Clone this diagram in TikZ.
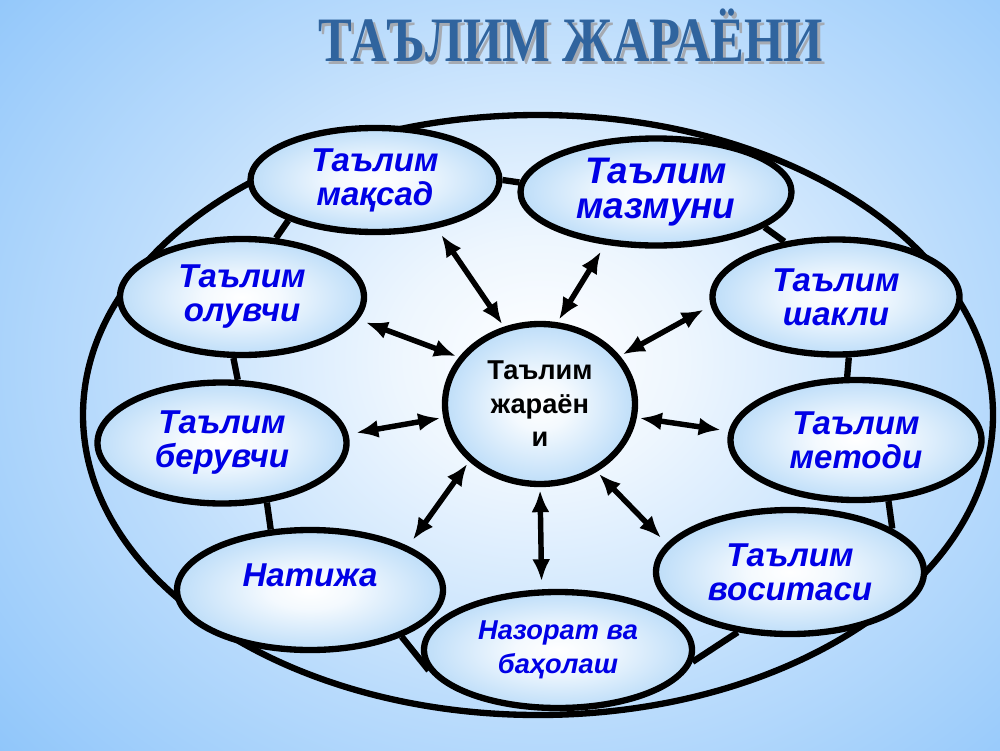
\documentclass[tikz,border=0pt]{standalone}
\usepackage{graphicx}
\usepackage{fontspec}
\setmainfont{Liberation Sans}
\newfontfamily\titlefont{Liberation Serif}
\usetikzlibrary{shapes.geometric,arrows.meta}

\definecolor{bgblue}{RGB}{140,196,250}
\definecolor{ellblue}{RGB}{140,196,244}
\definecolor{textblue}{RGB}{0,0,230}
\definecolor{titleblue}{RGB}{48,100,158}
\definecolor{titleshadow}{RGB}{165,170,178}
\colorlet{bgmid}{white!40!bgblue}
\colorlet{bglight}{white!85!bgblue}
\colorlet{ellmid}{white!30!ellblue}
\colorlet{elllight}{white!90!ellblue}
\pgfdeclareradialshading{bgshade}{\pgfpoint{0bp}{0bp}}{color(0bp)=(white); color(6bp)=(bglight); color(18bp)=(bgmid); color(31bp)=(bgblue); color(50bp)=(bgblue)}
\pgfdeclareradialshading{ellshade}{\pgfpoint{0bp}{0bp}}{color(0bp)=(white); color(8bp)=(elllight); color(30bp)=(ellmid); color(45bp)=(ellblue); color(50bp)=(ellblue)}

\begin{document}
\begin{tikzpicture}[x=0.2mm,y=-0.2mm,
    part/.style={ellipse,draw,line width=3.6pt,shading=ellshade,inner sep=0pt,align=center,
      text=textblue,font=\bfseries\itshape\fontsize{18.8}{19.3}\selectfont},
    link/.style={line width=3.6pt},
    dblarrow/.style={{Latex[length=4.4mm,width=3.6mm]}-{Latex[length=4.4mm,width=3.6mm]},
      line width=3.1pt,shorten <=0.6mm,shorten >=1.6mm}]
  \useasboundingbox (0,0) rectangle (1000,750);
  \clip (0,0) rectangle (1000,750);
  \shade[shading=bgshade] (-60,-140) rectangle (1140,860);

  \node[text=titleshadow] (shadow) at (574,38) {\titlefont\bfseries\fontsize{36}{36}\selectfont\scalebox{0.8}[1]{ТАЪЛИМ ЖАРАЁНИ}};
  \node[text=titleblue] (title) at (571,35) {\titlefont\bfseries\fontsize{36}{36}\selectfont\scalebox{0.8}[1]{ТАЪЛИМ ЖАРАЁНИ}};

  \draw[link] (538,415) ellipse [x radius=455, y radius=300];

  \node[part,minimum width=49.8mm,minimum height=20.8mm] (maqsad) at (375,180) {Таълим\\мақсад};
  \node[part,minimum width=54.2mm,minimum height=21.4mm,font=\bfseries\itshape\fontsize{21}{19.8}\selectfont] (mazmun) at (656,192) {Таълим\\мазмуни};
  \node[part,minimum width=48.8mm,minimum height=23.2mm] (oluvchi) at (242,297) {Таълим\\олувчи};
  \node[part,minimum width=49.4mm,minimum height=23mm] (shakli) at (836,297) {Таълим\\шакли};
  \node[part,minimum width=49.8mm,minimum height=24.2mm] (beruvchi) at (222,443) {Таълим\\берувчи};
  \node[part,minimum width=50.2mm,minimum height=24mm] (metodi) at (856,440) {Таълим\\методи};
  \node[part,minimum width=53.2mm,minimum height=24mm] (natija) at (310,590) {Натижа\\[-2pt]};
  \node[part,minimum width=53.6mm,minimum height=23.2mm,font=\bfseries\itshape\fontsize{15.5}{19.3}\selectfont] (nazorat) at (558,650) {Назорат ва\\баҳолаш};
  \node[part,minimum width=53.6mm,minimum height=24.8mm] (vositasi) at (790,572) {Таълим\\воситаси};
  \node[part,minimum width=38mm,minimum height=32mm,text=black,font=\bfseries\fontsize{15.5}{19}\selectfont] (hub) at (540,404) {Таълим\\жараён\\и};

  \draw[link] (maqsad.0) -- (mazmun.176);
  \draw[link] (mazmun.-18) -- (shakli.133);
  \draw[link] (shakli.-78) -- (metodi.98);
  \draw[link] (metodi.-62) -- (vositasi.23);
  \draw[link] (vositasi.-131) -- (nazorat.-5);
  \draw[link] (nazorat.-171) -- (natija.-27);
  \draw[link] (natija.123) -- (beruvchi.-53);
  \draw[link] (beruvchi.76) -- (oluvchi.-98);
  \draw[link] (oluvchi.60) -- (maqsad.-155);

  \foreach \from/\to in {115/maqsad.-38, 78/mazmun.226, 150/oluvchi.-11, 31/shakli.184,
      188/beruvchi.4, -8/metodi.176, 219/natija.24, 270/nazorat.105, -50/vositasi.167}
    \draw[dblarrow] (hub.\from) -- (\to);
\end{tikzpicture}
\end{document}
